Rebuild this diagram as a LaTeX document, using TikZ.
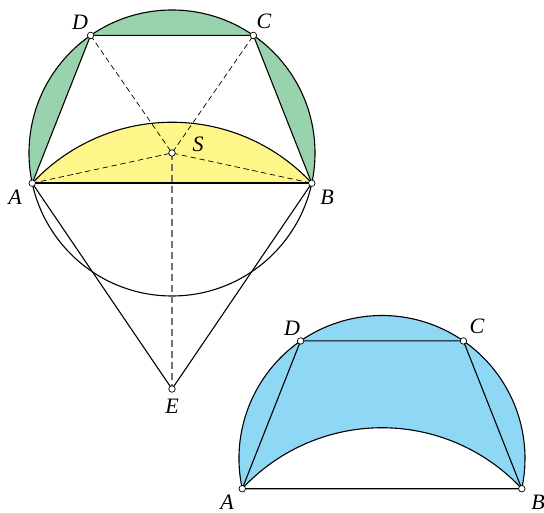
\documentclass[tikz,border=0pt]{standalone}
\usepackage{fontspec}
\setmainfont{Liberation Serif}
\definecolor{grn}{RGB}{153,211,173}
\definecolor{yel}{RGB}{255,246,138}
\definecolor{blu}{RGB}{142,215,245}
\begin{document}
\begin{tikzpicture}[x=1pt,y=1pt,
  ln/.style={line width=1.1pt, line join=round},
  dsh/.style={line width=0.7pt, dash pattern=on 5.5pt off 3.5pt},
  gdsh/.style={line width=1.1pt, black!55, dash pattern=on 7pt off 4pt},
  pt/.style={circle, draw, fill=white, inner sep=0pt, minimum size=6.5pt, line width=0.7pt},
  lab/.style={font=\fontsize{22}{22}\selectfont\itshape, inner sep=0pt}]
\useasboundingbox (0,0) rectangle (544,513);
\def\R{143}
% ---------- first figure ----------
\coordinate (S) at (172,360);
\path (S) ++(192.2:\R) coordinate (A);
\path (S) ++(-12.2:\R) coordinate (B);
\path (S) ++(55.3:\R) coordinate (C);
\path (S) ++(124.7:\R) coordinate (D);
\coordinate (E) at (172,124);
\fill[grn] (A) arc[start angle=192.2, end angle=124.7, radius=\R] -- cycle;
\fill[grn] (D) arc[start angle=124.7, end angle=55.3, radius=\R] -- cycle;
\fill[grn] (C) arc[start angle=55.3, end angle=-12.2, radius=\R] -- cycle;
\fill[yel] (A) arc[start angle=137.12, end angle=42.88, radius=190.8] -- cycle;
\draw[ln] (A) arc[start angle=137.12, end angle=42.88, radius=190.8];
\draw[ln] (S) circle[radius=\R];
\draw[ln] (A) -- (D) -- (C) -- (B);
\draw[ln, line width=1.5pt] (A) -- (B);
\draw[ln] (A) -- (E) -- (B);
\draw[dsh] (A) -- (S) -- (B);
\draw[dsh] (D) -- (S) -- (C);
\draw[gdsh] (S) -- (E);
\node[pt] (pA) at (A) {};
\node[pt] (pB) at (B) {};
\node[pt] (pC) at (C) {};
\node[pt] (pD) at (D) {};
\node[pt] (pS) at (S) {};
\node[pt] (pE) at (E) {};
\node[lab] (lD) at (80,491) {D};
\node[lab] (lC) at (264,492) {C};
\node[lab] (lS) at (198,369) {S};
\node[lab] (lA) at (15,316) {A};
\node[lab] (lB) at (327,316) {B};
\node[lab] (lE) at (172,107) {E};
% ---------- second figure ----------
\begin{scope}[shift={(210,-305.5)}]
\coordinate (S2) at (172,360);
\path (S2) ++(192.2:\R) coordinate (A2);
\path (S2) ++(-12.2:\R) coordinate (B2);
\path (S2) ++(55.3:\R) coordinate (C2);
\path (S2) ++(124.7:\R) coordinate (D2);
\fill[blu] (A2) arc[start angle=192.2, end angle=-12.2, radius=\R]
  arc[start angle=42.88, end angle=137.12, radius=190.8] -- cycle;
\draw[ln] (A2) arc[start angle=192.2, end angle=-12.2, radius=\R]
  arc[start angle=42.88, end angle=137.12, radius=190.8];
\draw[ln] (A2) -- (D2) -- (C2) -- (B2) -- (A2);
\node[pt] (qA) at (A2) {};
\node[pt] (qB) at (B2) {};
\node[pt] (qC) at (C2) {};
\node[pt] (qD) at (D2) {};
\end{scope}
\node[lab] (mD) at (292,185) {D};
\node[lab] (mC) at (477,187) {C};
\node[lab] (mA) at (227,11) {A};
\node[lab] (mB) at (538,11) {B};
\end{tikzpicture}
\end{document}
